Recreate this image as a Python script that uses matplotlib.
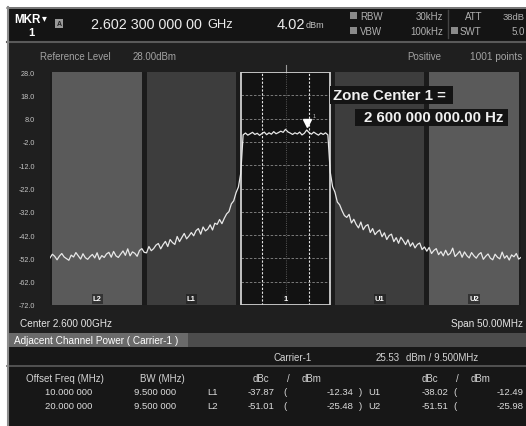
import numpy as np
import matplotlib
matplotlib.use('Agg')
import matplotlib.pyplot as plt
from matplotlib.patches import Rectangle

plt.rcParams['font.family'] = ['Liberation Sans', 'DejaVu Sans']

# ================= SCREEN SETTINGS =================
CENTER_GHZ = 2.600
SPAN_MHZ = 50.0
REF_LEVEL = 28.0
BOTTOM_LEVEL = -72.0
ZONE_BW = 9.5
POINTS = 1001

y_levels = [28.0, 18.0, 8.0, -2.0, -12.0, -22.0, -32.0, -42.0, -52.0, -62.0, -72.0]

zone_names = ['L2', 'L1', '1', 'U1', 'U2']
zone_offsets = [-20.0, -10.0, 0.0, 10.0, 20.0]
zone_inner_lines = [-2.5, 2.5]

marker_text = '2.602 300 000 00'
marker_freq_ghz = 2.6023
marker_level = 4.02

# trace, 0.25 MHz steps from -25 MHz to +25 MHz
lvl_far_left = [-51.8, -50.2, -51.1, -52.6, -51.0, -49.9, -51.4, -52.1, -52.8, -50.6,
                -51.4, -49.5, -50.9, -52.3, -50.0, -51.7, -52.4, -51.2, -50.3, -51.8, -49.6]
lvl_l2_edge = [-52.5, -50.8, -51.6, -50.1, -49.4, -51.5, -49.0, -50.9, -51.6, -50.2,
               -48.8, -50.7, -47.9, -50.9, -49.2, -49.8, -51.1, -48.6, -47.8, -49.4]
lvl_l1 = [-49.6, -46.9, -48.7, -47.8, -46.3, -45.6, -47.9, -46.1, -44.7, -46.9,
          -43.9, -45.2, -46.0, -42.6, -44.8, -43.0, -41.3, -43.6, -42.4, -40.9]
lvl_left_skirt = [-42.3, -40.1, -39.2, -41.6, -38.5, -40.2, -39.4, -37.6, -39.8, -36.9,
                  -37.4, -35.3, -37.1, -34.8, -32.9, -31.9, -28.6, -27.3, -23.8, -21.4, -15.5]
lvl_carrier = [1.0, 1.8, 0.9, 1.5, 2.1, 1.2, 1.7, 0.8, 1.6, 2.2, 1.1, 1.9, 1.3, 2.4, 1.5,
               2.0, 2.6, 2.1, 3.4, 2.3, 1.8, 1.2, 1.9, 1.4, 2.2, 1.0, 1.7, 3.1, 2.0, 1.3,
               2.2, 1.5, 0.9, 1.8, 1.2, 1.9, 1.0]
lvl_right_skirt = [-15.0, -21.2, -23.6, -27.8, -29.0, -31.5, -33.6, -34.4, -33.1, -36.8, -35.2,
                   -37.4, -38.9, -36.4, -39.7, -38.1, -37.5, -40.9, -39.2, -41.8, -40.6, -39.8]
lvl_u1 = [-42.7, -41.0, -43.9, -42.2, -41.6, -44.8, -43.1, -45.5, -42.9, -44.4,
          -46.1, -44.0, -46.8, -45.3, -47.5, -46.0, -45.4, -48.2, -47.1, -48.9]
lvl_u2_edge = [-47.3, -49.9, -48.6, -47.8, -50.4, -49.1, -50.9, -48.5, -50.6, -49.8,
               -47.6, -51.2, -50.1, -48.9, -51.5, -49.2, -50.8, -51.8, -49.5, -50.9]
lvl_far_right = [-51.9, -50.3, -49.5, -52.4, -51.1, -50.1, -51.9, -52.6, -50.2, -51.5,
                 -52.2, -49.3, -51.9, -50.8, -52.7, -50.5, -51.3, -49.9, -52.3, -51.6]

level_dbm = np.array(lvl_far_left + lvl_l2_edge + lvl_l1 + lvl_left_skirt + lvl_carrier
                     + lvl_right_skirt + lvl_u1 + lvl_u2_edge + lvl_far_right)
offset_mhz = np.arange(-SPAN_MHZ / 2, SPAN_MHZ / 2 + 0.001, 0.25)

# ACP table
carrier_power = 25.53
offset_freq = ['10.000 000', '20.000 000']
bw_mhz = ['9.500 000', '9.500 000']
lower_names = ['L1', 'L2']
upper_names = ['U1', 'U2']
lower_dbc = [-37.87, -51.01]
lower_dbm = [-12.34, -25.48]
upper_dbc = [-38.02, -51.51]
upper_dbm = [-12.49, -25.98]

# ================= FIGURE =================
W, H = 526, 427
fig = plt.figure(figsize=(W / 100, H / 100), dpi=100, facecolor='white')
bg = fig.add_axes([0, 0, 1, 1])
bg.set_xlim(0, W)
bg.set_ylim(H, 0)
bg.axis('off')


def box(x0, y0, x1, y1, color):
    bg.add_patch(Rectangle((x0, y0), x1 - x0, y1 - y0, facecolor=color, edgecolor='none'))


def txt(x, y, s, size=7, color='#c8c8c8', ha='left', weight='normal'):
    bg.text(x, y, s, fontsize=size, color=color, ha=ha, va='center', fontweight=weight)


box(7, 8, W, H, '#1f1f1f')
box(7, 8, W, 42, '#141414')
bg.plot([7, W], [42.5, 42.5], color='#5a5a5a', lw=1.5)
box(7, 334, W, 348, '#4c4c4c')
box(7, 334, 188, 348, '#6a6a6a')
box(7, 348, W, H, '#171717')
bg.plot([7, W], [366.5, 366.5], color='#5c5c5c', lw=1.2)
bg.plot([7.5, 7.5], [8, H], color='#8c8c8c', lw=1.5)
bg.plot([7, W], [8.5, 8.5], color='#8c8c8c', lw=1.2)

# header
txt(14, 20, 'MKR', 8.4, 'white', weight='bold')
txt(42, 18, '\u25be', 7, 'white')
txt(28, 33, '1', 8, 'white', weight='bold')
box(55, 20, 63, 29, '#9a9a9a')
bg.text(59, 24.7, 'A', fontsize=5, color='#222222', ha='center', va='center', fontweight='bold')
txt(91, 25, marker_text, 10.3, '#ececec')
txt(207, 25.5, 'GHz', 9.3, '#ececec')
txt(277, 25, f'{marker_level:.2f}', 10.5, '#ececec')
txt(306, 26, 'dBm', 6.5, '#c0c0c0')
box(350, 13, 357, 20, '#8a8a8a')
box(350, 28, 357, 35, '#8a8a8a')
txt(360, 17, 'RBW', 7, '#b0b0b0')
txt(360, 32, 'VBW', 7, '#b0b0b0')
txt(443, 17, '30kHz', 7, '#b0b0b0', ha='right')
txt(443, 32, '100kHz', 7, '#b0b0b0', ha='right')
bg.plot([448, 448], [11, 39], color='#444444', lw=1)
txt(465, 17, 'ATT', 7, '#b0b0b0')
box(451, 28, 458, 35, '#8a8a8a')
txt(460, 32, 'SWT', 7, '#b0b0b0')
txt(525, 17, '38dB', 6.8, '#b0b0b0', ha='right')
txt(512, 32, '5.0', 7, '#b0b0b0')

txt(40, 57, 'Reference Level', 7, '#a2a2a2')
txt(133, 57, f'{REF_LEVEL:.2f}dBm', 7, '#a2a2a2')
txt(407, 57, 'Positive', 7, '#a2a2a2')
txt(470, 57, f'{POINTS} points', 7.3, '#a2a2a2')

# footer + ACP table
txt(20, 324, f'Center {CENTER_GHZ:.3f} 00GHz', 7.2, '#e6e6e6')
txt(523, 324, f'Span {SPAN_MHZ:.2f}MHz', 7.2, '#e6e6e6', ha='right')
txt(14, 341, 'Adjacent Channel Power ( Carrier-1 )', 7.2, 'white')
txt(273, 358, 'Carrier-1', 7, '#d4d4d4')
txt(400, 358, f'{carrier_power:.2f}', 7, '#d4d4d4', ha='right')
txt(406, 358, f'dBm / {ZONE_BW:.3f}MHz', 7, '#d4d4d4')

txt(26, 379, 'Offset Freq (MHz)', 7, '#d4d4d4')
txt(140, 379, 'BW (MHz)', 7, '#d4d4d4')
for x0 in (253, 422):
    txt(x0, 379, 'dBc', 7, '#d4d4d4')
    txt(x0 + 34, 379, '/', 7, '#d4d4d4')
    txt(x0 + 49, 379, 'dBm', 7, '#d4d4d4')

for i, y in enumerate([393, 407]):
    txt(92, y, offset_freq[i], 6.8, '#dcdcdc', ha='right')
    txt(176, y, bw_mhz[i], 6.8, '#dcdcdc', ha='right')
    txt(207, y, lower_names[i], 6.8, '#dcdcdc')
    txt(248, y, f'{lower_dbc[i]:.2f}', 6.8, '#dcdcdc')
    txt(283, y, '(', 6.8, '#dcdcdc')
    txt(353, y, f'{lower_dbm[i]:.2f}', 6.8, '#dcdcdc', ha='right')
    txt(359, y, ')', 6.8, '#dcdcdc')
    txt(368, y, upper_names[i], 6.8, '#dcdcdc')
    txt(422, y, f'{upper_dbc[i]:.2f}', 6.8, '#dcdcdc')
    txt(453, y, '(', 6.8, '#dcdcdc')
    txt(524, y, f'{upper_dbm[i]:.2f}', 6.8, '#dcdcdc', ha='right')

# ================= SPECTRUM =================
ax = fig.add_axes([50 / W, 1 - 306 / H, 471 / W, 233 / H])
ax.set_facecolor('#1b1b1b')
ax.set_xlim(-SPAN_MHZ / 2, SPAN_MHZ / 2)
ax.set_ylim(BOTTOM_LEVEL, REF_LEVEL)
for s in ax.spines.values():
    s.set_visible(False)

zone_fill = ['#5a5a5a', '#3d3d3d', '#121212', '#3d3d3d', '#5a5a5a']
for name, off, col in zip(zone_names, zone_offsets, zone_fill):
    ax.axvspan(off - ZONE_BW / 2, off + ZONE_BW / 2, color=col, lw=0, zorder=0)
    ax.text(off, BOTTOM_LEVEL + 2.6, name, fontsize=5.5, color='white', fontweight='bold',
            ha='center', va='center', zorder=6,
            bbox=dict(boxstyle='square,pad=0.15', fc='#1a1a1a', ec='none', alpha=0.6))

# carrier zone graticule
for v in y_levels[1:-1]:
    ax.plot([-ZONE_BW / 2, ZONE_BW / 2], [v, v], color='#8a8a8a', lw=0.6,
            ls=(0, (3, 2)), zorder=1)
for xv in zone_inner_lines:
    ax.axvline(xv, color='#e6e6e6', lw=0.8, ls=(0, (2, 1.5)), zorder=1)
ax.axvline(0, color='#6e6e6e', lw=0.6, ls=':', zorder=1)
ax.add_patch(Rectangle((-ZONE_BW / 2, BOTTOM_LEVEL), ZONE_BW, REF_LEVEL - BOTTOM_LEVEL,
                       fill=False, ec='#d0d0d0', lw=1.3, zorder=3))
ax.plot([0, 0], [REF_LEVEL, REF_LEVEL + 3], color='#9a9a9a', lw=0.8, clip_on=False)

ax.plot(offset_mhz, level_dbm, color='#e8e8e8', lw=0.9, zorder=4)

m_off = (marker_freq_ghz - CENTER_GHZ) * 1000
ax.plot(m_off, marker_level + 2.2, marker='v', ms=6, color='white', zorder=5)
ax.annotate('1', (m_off, marker_level + 2.2), xytext=(4, 4), textcoords='offset points',
            fontsize=4, color='#bbbbbb', zorder=5)

ax.set_xticks([])
ax.set_yticks(y_levels)
ax.set_yticklabels([f'{v:.1f}' for v in y_levels])
ax.tick_params(axis='y', length=0, pad=11, labelsize=5.2, labelcolor='#c4c4c4')

# zone center readout
ax.add_patch(Rectangle((330, 87), 123, 18, transform=bg.transData, fc='#141414',
                       ec='none', clip_on=False, zorder=7))
ax.add_patch(Rectangle((355, 110), 153, 17, transform=bg.transData, fc='#141414',
                       ec='none', clip_on=False, zorder=7))
ax.text(333, 96, 'Zone Center 1 =', transform=bg.transData, fontsize=10.8,
        fontweight='bold', color='#f0f0f0', va='center', zorder=8)
ax.text(503, 118.5, f'{CENTER_GHZ * 1e9:,.2f} Hz'.replace(',', ' '), transform=bg.transData,
        fontsize=10.8, fontweight='bold', color='#f0f0f0', va='center', ha='right', zorder=8)

fig.savefig('out.png', dpi=100, facecolor='white')
